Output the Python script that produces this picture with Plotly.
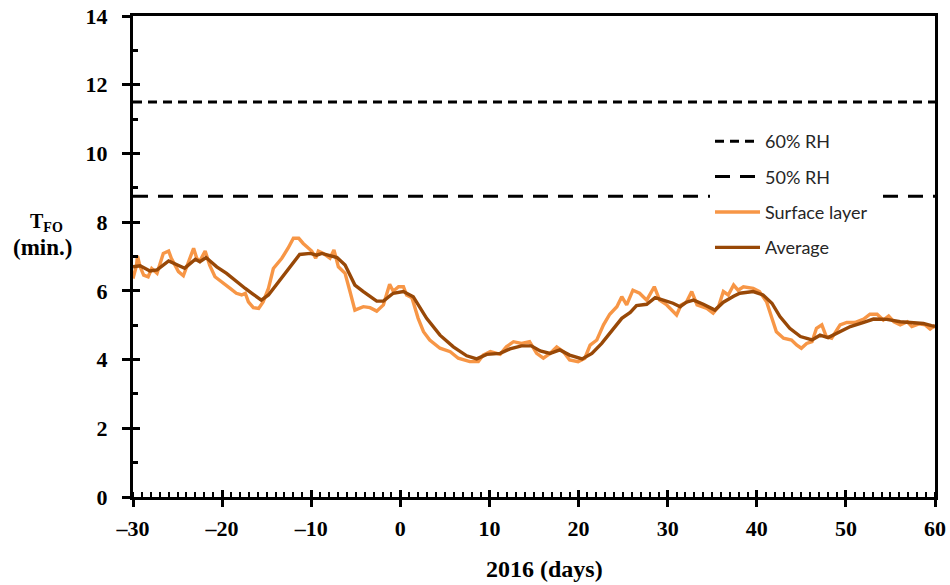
import plotly.graph_objects as go

# ---------------- data ----------------
avg_days = [-30, -29.2, -28.1, -27.3, -26.0, -25.1, -24.2, -23.0, -22.5, -21.8,
            -20.6, -19.5, -18.4, -17.4, -16.5, -15.6, -14.8, -13.5, -12.4, -11.3,
            -10.1, -9.4, -8.8, -7.9, -7.1, -6.2, -5.1, -4.15, -2.65, -1.9,
            -0.8, 0.34, 1.45, 2.95, 4.45, 5.95, 7.45, 8.57, 9.7, 11.2,
            12.3, 13.6, 14.7, 15.7, 16.8, 17.9, 19.0, 20.4, 21.5, 22.6,
            23.7, 24.85, 25.8, 26.5, 27.65, 28.6, 29.5, 30.6, 31.4, 32.1,
            32.9, 34.0, 35.3, 36.25, 37.4, 38.1, 39.6, 40.7, 41.7, 42.6,
            43.7, 44.9, 46.2, 47.1, 48.0, 49.0, 50.5, 52.0, 53.1, 54.6,
            56.1, 57.6, 58.7, 59.6, 60]
avg_vals = [6.70, 6.73, 6.58, 6.61, 6.87, 6.77, 6.66, 6.92, 6.85, 6.97,
            6.70, 6.51, 6.27, 6.07, 5.90, 5.73, 5.88, 6.32, 6.70, 7.06,
            7.09, 7.04, 7.09, 7.02, 6.97, 6.75, 6.17, 5.98, 5.70, 5.70,
            5.93, 5.98, 5.83, 5.20, 4.71, 4.37, 4.11, 4.02, 4.15, 4.18,
            4.31, 4.40, 4.40, 4.25, 4.18, 4.28, 4.13, 4.02, 4.18, 4.47,
            4.83, 5.20, 5.37, 5.57, 5.61, 5.80, 5.73, 5.64, 5.54, 5.67,
            5.73, 5.61, 5.44, 5.67, 5.84, 5.93, 5.98, 5.88, 5.64, 5.25,
            4.91, 4.67, 4.57, 4.71, 4.64, 4.76, 4.96, 5.08, 5.18, 5.17,
            5.10, 5.07, 5.05, 4.99, 4.97]

sur_days = [-30.0, -29.6, -29.5, -29.2, -28.8, -28.3, -27.9, -27.3, -26.6, -26.0,
            -25.7, -24.9, -24.35, -23.8, -23.2, -22.85, -22.5, -21.9, -21.4, -20.8,
            -20.05, -19.1, -18.4, -17.8, -17.4, -17.05, -16.5, -15.9, -15.4, -14.8,
            -14.25, -13.3, -12.6, -12.0, -11.4, -10.9, -9.95, -9.5, -9.2, -8.65,
            -7.9, -7.45, -6.95, -6.2, -5.65, -5.1, -4.15, -3.4, -2.65, -1.9,
            -1.2, -0.8, -0.2, 0.35, 0.7, 1.3, 2.0, 2.6, 3.3, 4.45,
            5.6, 6.5, 7.8, 8.75, 9.3, 10.1, 11.2, 11.9, 12.7, 13.6,
            14.5, 15.3, 16.05, 16.8, 17.55, 18.3, 19.0, 19.95, 20.7, 21.3,
            22.05, 22.8, 23.5, 24.3, 24.85, 25.4, 26.1, 26.85, 27.65, 28.5,
            29.1, 29.9, 31.0, 31.5, 32.1, 32.7, 33.3, 34.4, 35.1, 35.7,
            36.25, 36.8, 37.4, 37.9, 38.5, 39.6, 40.3, 41.1, 41.7, 42.2,
            43.0, 43.9, 44.5, 45.0, 45.6, 46.2, 46.7, 47.3, 47.8, 48.4,
            49.35, 50.1, 51.0, 52.0, 52.7, 53.5, 54.2, 54.8, 55.4, 56.1,
            56.9, 57.4, 58.2, 58.9, 59.45, 59.8, 60.0]
sur_vals = [6.36, 6.75, 7.02, 6.70, 6.46, 6.41, 6.65, 6.51, 7.09, 7.16,
            6.95, 6.56, 6.44, 6.85, 7.24, 6.95, 6.87, 7.16, 6.75, 6.41,
            6.27, 6.07, 5.93, 5.88, 5.93, 5.68, 5.51, 5.49, 5.68, 6.07,
            6.65, 6.95, 7.24, 7.53, 7.53, 7.38, 7.16, 6.95, 7.16, 7.09,
            6.95, 7.19, 6.70, 6.51, 5.98, 5.44, 5.54, 5.51, 5.41, 5.59,
            6.19, 5.99, 6.12, 6.12, 5.88, 5.80, 5.20, 4.81, 4.57, 4.33,
            4.23, 4.04, 3.94, 3.94, 4.13, 4.23, 4.15, 4.37, 4.52, 4.47,
            4.52, 4.18, 4.04, 4.18, 4.37, 4.23, 3.99, 3.94, 4.04, 4.42,
            4.57, 5.01, 5.32, 5.54, 5.83, 5.59, 6.02, 5.93, 5.73, 6.12,
            5.73, 5.59, 5.30, 5.59, 5.67, 5.98, 5.59, 5.49, 5.35, 5.54,
            5.98, 5.88, 6.17, 6.02, 6.12, 6.07, 5.98, 5.68, 5.20, 4.81,
            4.62, 4.57, 4.42, 4.33, 4.47, 4.52, 4.91, 5.01, 4.67, 4.62,
            5.01, 5.08, 5.08, 5.18, 5.32, 5.32, 5.15, 5.27, 5.10, 5.01,
            5.10, 4.96, 5.04, 5.01, 4.89, 4.96, 4.93]

rh_days = [-30, 60]
rh60_val = 11.5
rh50_val = 8.75

x_tickvals = [-30, -20, -10, 0, 10, 20, 30, 40, 50, 60]
x_ticktext = ["\u201330", "\u201320", "\u201310", "0", "10", "20", "30", "40", "50", "60"]
y_tickvals = [0, 2, 4, 6, 8, 10, 12, 14]
y_ticktext = ["0", "2", "4", "6", "8", "10", "12", "14"]
y_minorvals = [1, 3, 5, 7, 9, 11, 13]

# ---------------- figure ----------------
ORANGE = "#F79646"
BROWN = "#984807"
SERIF = "Liberation Serif, Times New Roman, serif"

L, R, T, B = 133, 15, 16, 88
W, H = 950, 585
plot_w = W - L - R
plot_h = H - T - B


def px_x(p):
    return (p - L) / plot_w


def px_y(p):
    return (H - B - p) / plot_h


fig = go.Figure()

fig.add_trace(go.Scatter(x=rh_days, y=[rh60_val] * len(rh_days), mode="lines", name="60% RH",
                         line=dict(color="black", width=3, dash="9px,6px"),
                         legendgroup="a", legendrank=1, hoverinfo="skip"))
fig.add_trace(go.Scatter(x=rh_days, y=[rh50_val] * len(rh_days), mode="lines", name="50% RH",
                         line=dict(color="black", width=3, dash="15px,10px"),
                         legendgroup="b", legendrank=2, hoverinfo="skip"))
fig.add_trace(go.Scatter(x=sur_days, y=sur_vals, mode="lines", name="Surface layer",
                         line=dict(color=ORANGE, width=3.4),
                         legendgroup="c", legendrank=3))
fig.add_trace(go.Scatter(x=avg_days, y=avg_vals, mode="lines", name="Average",
                         line=dict(color=BROWN, width=3.4),
                         legendgroup="d", legendrank=4))
# empty trace that anchors the overlay axes (inner half of the crossing major ticks)
fig.add_trace(go.Scatter(x=[None], y=[None], xaxis="x2", yaxis="y2",
                         showlegend=False, hoverinfo="skip"))

tickfont = dict(family=SERIF, size=22, color="black")

fig.update_layout(
    width=W, height=H,
    margin=dict(l=L, r=R, t=T, b=B, autoexpand=False),
    paper_bgcolor="white", plot_bgcolor="white",
    showlegend=True,
    legend=dict(x=px_x(710), y=px_y(123), xanchor="left", yanchor="top",
                bgcolor="white", borderwidth=0,
                font=dict(family="Lato, Open Sans, sans-serif", size=18, color="#262626"),
                tracegroupgap=9, itemwidth=45,
                entrywidth=184, entrywidthmode="pixels"),
    xaxis=dict(range=[-30, 60], tickvals=x_tickvals,
               ticktext=["<b>%s</b>" % t for t in x_ticktext],
               showline=True, linecolor="black", linewidth=3, mirror=True,
               ticks="outside", ticklen=7, tickwidth=3, tickcolor="black",
               minor=dict(ticks="inside", dtick=1, ticklen=5, tickwidth=2, tickcolor="black", showgrid=False),
               showgrid=False, zeroline=False, tickfont=tickfont, ticklabelstandoff=3,
               automargin=False),
    yaxis=dict(range=[0, 14], tickvals=y_tickvals,
               ticktext=["<b>%s</b>" % t for t in y_ticktext],
               showline=True, linecolor="black", linewidth=3, mirror=True,
               ticks="outside", ticklen=8, tickwidth=3, tickcolor="black",
               minor=dict(ticks="inside", tickvals=y_minorvals, ticklen=5, tickwidth=2.5,
                          tickcolor="black", showgrid=False),
               showgrid=False, zeroline=False, tickfont=tickfont, ticklabelstandoff=10,
               automargin=False),
    xaxis2=dict(range=[-30, 60], overlaying="x", tickvals=x_tickvals, showticklabels=False,
                ticks="inside", ticklen=7, tickwidth=3, tickcolor="black",
                showline=False, showgrid=False, zeroline=False, anchor="y2", automargin=False),
    yaxis2=dict(range=[0, 14], overlaying="y", tickvals=y_tickvals, showticklabels=False,
                ticks="inside", ticklen=7, tickwidth=3, tickcolor="black",
                showline=False, showgrid=False, zeroline=False, anchor="x2", side="left",
                automargin=False),
    annotations=[
        dict(text="<b>T<sub>FO</sub></b>", x=px_x(46), y=px_y(223),
             xref="paper", yref="paper", xanchor="center", yanchor="middle",
             showarrow=False, font=dict(family=SERIF, size=20, color="black")),
        dict(text="<b>(min.)</b>", x=px_x(42), y=px_y(247),
             xref="paper", yref="paper", xanchor="center", yanchor="middle",
             showarrow=False, font=dict(family=SERIF, size=23, color="black")),
        dict(text="<b>2016 (days)</b>", x=px_x(544), y=px_y(569), xref="paper", yref="paper",
             xanchor="center", yanchor="middle", showarrow=False,
             font=dict(family=SERIF, size=24, color="black")),
    ],
)

# remove the default 8px body margin so the figure fills the 950x585 window exactly
fig.write_html("out.html", post_script="document.body.style.margin='0';",
               config={"displayModeBar": False})
